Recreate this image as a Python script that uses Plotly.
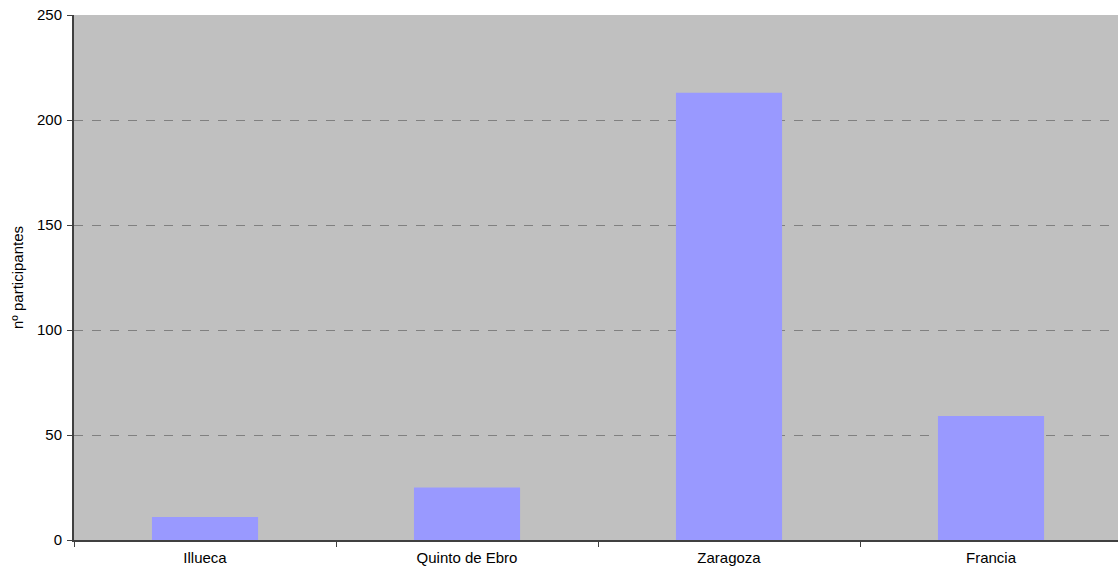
import plotly.graph_objects as go

categories = ["Illueca", "Quinto de Ebro", "Zaragoza", "Francia"]
participantes = [11, 25, 213, 59]
y_ticks = [0, 50, 100, 150, 200, 250]

fig = go.Figure(go.Bar(
    x=categories, y=participantes,
    marker=dict(color="#9999FF", line=dict(width=0)),
))

fig.update_layout(
    width=1122, height=571,
    margin=dict(l=74, r=0, t=15, b=31, autoexpand=False),
    paper_bgcolor="white",
    plot_bgcolor="#C0C0C0",
    bargap=0.595,
    showlegend=False,
    font=dict(family="Liberation Sans, Arial, sans-serif", size=15, color="black"),
)
fig.update_xaxes(
    type="category", automargin=False,
    showline=True, linecolor="#404040", linewidth=2,
    ticks="outside", tickson="boundaries", ticklen=5, tickcolor="#404040",
    showgrid=False,
    tickfont=dict(size=15), ticklabelstandoff=3, ticklabeloverflow="allow",
)
fig.update_yaxes(
    range=[0, 250], tickvals=y_ticks, automargin=False,
    showline=True, linecolor="#404040", linewidth=2,
    ticks="outside", ticklen=5, tickcolor="#404040",
    showgrid=True, gridcolor="#808080", griddash="dash", gridwidth=1,
    zeroline=False,
    title=dict(text="nº participantes", font=dict(size=15), standoff=10),
    tickfont=dict(size=15), ticklabelstandoff=2, ticklabeloverflow="allow",
)

fig.write_html(
    "out.html",
    config={"displayModeBar": False},
    post_script="document.body.style.margin='0';document.body.style.overflow='hidden';",
)
